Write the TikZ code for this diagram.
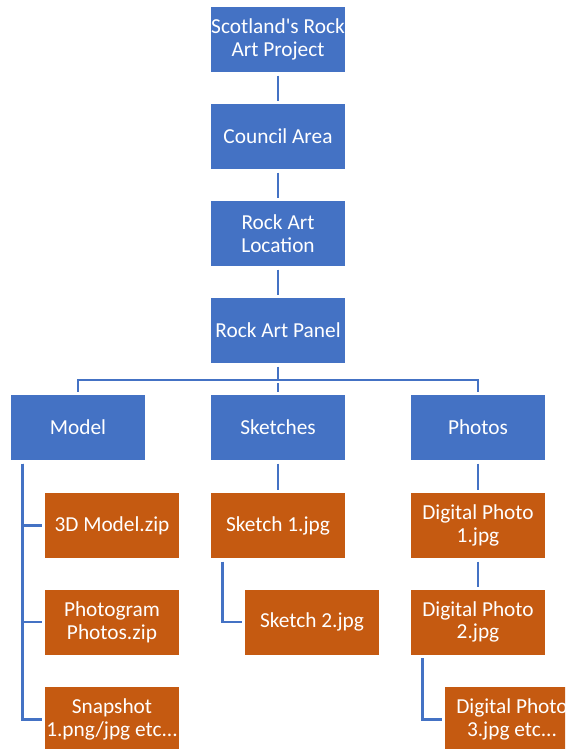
\documentclass[tikz,border=0pt]{standalone}
\usepackage{fontspec}
\setmainfont{Carlito}
\usetikzlibrary{positioning}

\definecolor{boxblue}{HTML}{4472C4}
\definecolor{boxorange}{HTML}{C55A11}

\tikzset{
    level/.style={fill=boxblue, text=white, minimum width=100.5pt, minimum height=48.75pt,
        inner sep=0pt, align=center, font=\fontsize{16}{17}\selectfont},
    file/.style={level, fill=boxorange},
    link/.style={draw=boxblue, line width=2pt, shorten <=2.5pt, shorten >=2pt}
}

\begin{document}
\begin{tikzpicture}[x=0.75pt, y=-0.75pt]

    \useasboundingbox (0, 0) rectangle (565, 749);
    \clip (0, 0) rectangle (565, 749);

    % Declare the upper levels
    \node[level] at (278, 39.5) (project) {Scotland\textquotesingle s Rock\\Art Project};
    \node[level] at (278, 136.5) (council) {Council Area};
    \node[level] at (278, 233.5) (location) {Rock Art\\Location};
    \node[level] at (278, 330.5) (panel) {Rock Art Panel};

    % Declare the record types
    \node[level] at (78, 427.5) (model) {Model};
    \node[level] at (278, 427.5) (sketches) {Sketches};
    \node[level] at (478, 427.5) (photos) {Photos};

    % Declare the files
    \node[file] at (112, 525.5) (model1) {3D Model.zip};
    \node[file] at (112, 622) (model2) {Photogram\\Photos.zip};
    \node[file] at (112, 719.5) (model3) {Snapshot\\1.png/jpg etc...};
    \node[file] at (278, 525.5) (sketch1) {Sketch 1.jpg};
    \node[file] at (312, 622) (sketch2) {Sketch 2.jpg};
    \node[file] at (478, 525.5) (photo1) {Digital Photo\\1.jpg};
    \node[file] at (478, 622) (photo2) {Digital Photo\\2.jpg};
    \node[file] at (512, 719.5) (photo3) {Digital Photo\\3.jpg etc...};

    % Declare the chain edges
    \draw[link] (project) -- (council);
    \draw[link] (council) -- (location);
    \draw[link] (location) -- (panel);

    % Declare the branch edges
    \coordinate (bar) at (278, 380);
    \draw[link, shorten >=0pt] (panel) -- (bar);
    \draw[link] (bar) -- (sketches);
    \draw[link, shorten <=0pt] (bar) -| (model);
    \draw[link, shorten <=0pt] (bar) -| (photos);

    % Declare the file edges
    \draw[link] ([xshift=9pt]model.south west) |- (model1);
    \draw[link] ([xshift=9pt]model.south west) |- (model2);
    \draw[link] ([xshift=9pt]model.south west) |- (model3);
    \draw[link] (sketches) -- (sketch1);
    \draw[link] ([xshift=9pt]sketch1.south west) |- (sketch2);
    \draw[link] (photos) -- (photo1);
    \draw[link] (photo1) -- (photo2);
    \draw[link] ([xshift=9pt]photo2.south west) |- (photo3);

\end{tikzpicture}
\end{document}
